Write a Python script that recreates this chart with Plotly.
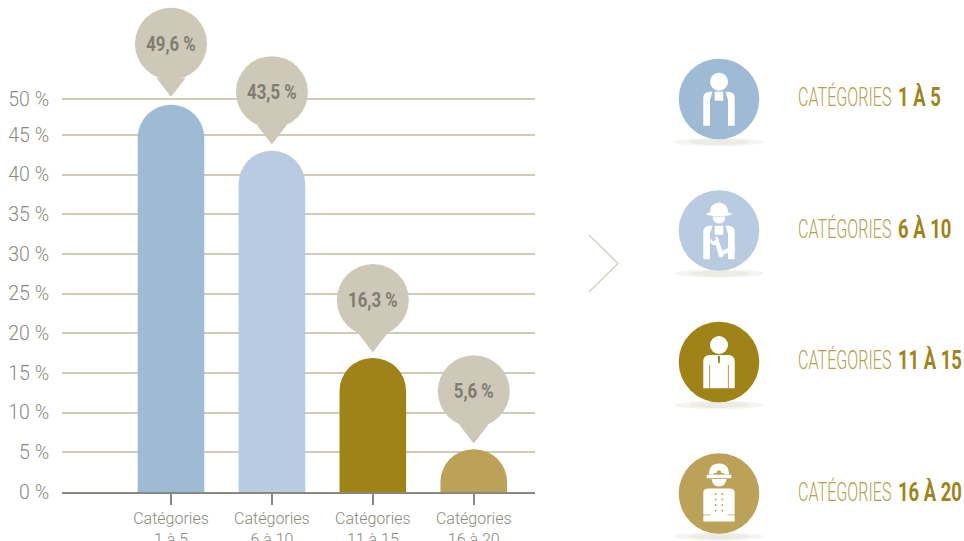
import plotly.graph_objects as go

W, H = 964, 541

# --- data ---
categories = ["Catégories<br>1 à 5", "Catégories<br>6 à 10", "Catégories<br>11 à 15", "Catégories<br>16 à 20"]
bar_heights = [48.8, 43.0, 16.9, 5.4]
value_labels = ["49,6 %", "43,5 %", "16,3 %", "5,6 %"]
bubble_levels = [56.5, 50.4, 24.2, 12.7]
tail_levels = [51.4, 45.4, 19.2, 7.7]
bar_colors = ["#9fbad5", "#b8cbe0", "#a08318", "#bba258"]
# the top gridline of the source sits a little low: its "50 %" is drawn at about 49.5 on the scale
y_ticks = [0, 5, 10, 15, 20, 25, 30, 35, 40, 45, 49.53]
y_tick_labels = ["0 %", "5 %", "10 %", "15 %", "20 %", "25 %", "30 %", "35 %", "40 %", "45 %", "50 %"]
legend_light = "CATÉGORIES"
legend_bold = ["1 À 5", "6 À 10", "11 À 15", "16 À 20"]

GREY = "#8b897e"
LINE = "#d0cbb9"
BUBBLE = "#cdc8b8"
GOLD = "#a08318"
PX_PER_UNIT = 7.934

fig = go.Figure()
fig.add_bar(x=categories, y=bar_heights, width=0.66,
            marker=dict(color=bar_colors, cornerradius=33, line_width=0), hoverinfo="skip")
fig.add_scatter(x=categories, y=tail_levels, mode="markers", hoverinfo="skip",
                marker=dict(symbol="triangle-down", size=24, color=BUBBLE, line=dict(color=BUBBLE, width=1)))
fig.add_scatter(x=categories, y=bubble_levels, mode="markers+text", hoverinfo="skip",
                marker=dict(symbol="circle", size=72, color=BUBBLE),
                text=value_labels, textposition="middle center",
                textfont=dict(family="Roboto", size=21, color="#7f7d70", weight="bold"))


def px(x):
    return x / W


def py(y):
    return 1 - y / H


shapes = []


def path(d, color):
    """d: list of tokens; tuples are absolute pixel coordinates."""
    out = []
    for t in d:
        out.append(t if isinstance(t, str) else f"{px(t[0])},{py(t[1])}")
    shapes.append(dict(type="path", xref="paper", yref="paper", path=" ".join(out) + " Z",
                       fillcolor=color, line_width=0, layer="above"))


def ell(cx, cy, rx, ry, color):
    shapes.append(dict(type="circle", xref="paper", yref="paper", x0=px(cx - rx), x1=px(cx + rx),
                       y0=py(cy + ry), y1=py(cy - ry), fillcolor=color, line_width=0, layer="above"))


def rect(x0, y0, x1, y1, color):
    shapes.append(dict(type="rect", xref="paper", yref="paper", x0=px(x0), x1=px(x1),
                       y0=py(y1), y1=py(y0), fillcolor=color, line_width=0, layer="above"))


def arms(cx, cy, top, bottom):
    for s in (-1, 1):
        path(["M", (cx + s * 15.7, cy + bottom), "L", (cx + s * 15.7, cy + top + 6),
              "Q", (cx + s * 15.7, cy + top + 1), (cx + s * 10, cy + top), "L", (cx + s * 6.5, cy + top),
              "L", (cx + s * 9, cy + top + 8), "L", (cx + s * 9, cy + bottom)], "#ffffff")
    rect(cx - 4.3, cy + top, cx + 4.3, cy + top + 9, "#ffffff")


def icon(i, cx, cy):
    bg = bar_colors[i]
    ell(cx, cy + 43, 45, 4, "#f5f4f0")
    ell(cx, cy + 43, 30, 3, "#ecebe4")
    ell(cx, cy, 40.3, 40.3, bg)
    W_ = "#ffffff"
    if i == 0:
        ell(cx, cy - 17.3, 9, 9, W_)
        arms(cx, cy, -7.3, 26.7)
    elif i == 1:
        path(["M", (cx - 9, cy - 18), "Q", (cx - 9, cy - 27), (cx, cy - 28),
              "Q", (cx + 9, cy - 27), (cx + 9, cy - 18)], W_)
        ell(cx, cy - 16.5, 12.8, 2.1, W_)
        path(["M", (cx - 6.5, cy - 14), "L", (cx + 6.5, cy - 14), "Q", (cx + 6, cy - 7), (cx, cy - 7),
              "Q", (cx - 6, cy - 7), (cx - 6.5, cy - 14)], W_)
        arms(cx, cy, -4.7, 28.7)
        pts = [(-8, 8), (-6, 11), (-3, 9), (-4, 6), (-1, 7), (0, 11), (5, 24), (3, 27), (0, 26), (-3, 15), (-7, 14), (-9, 11)]
        d = []
        for k, (a, b) in enumerate(pts):
            d += ["M" if k == 0 else "L", (cx + a, cy + b)]
        path(d, W_)
        path(["M", (cx + 15.7, cy + 14), "L", (cx + 15.7, cy + 20), "L", (cx + 4.5, cy + 24), "L", (cx + 3, cy + 20.5)], W_)
    elif i == 2:
        ell(cx, cy - 17, 9, 9, W_)
        path(["M", (cx - 15.7, cy + 26.3), "L", (cx - 15.7, cy - 1), "Q", (cx - 15.7, cy - 6), (cx - 10, cy - 7),
              "L", (cx + 10, cy - 7), "Q", (cx + 15.7, cy - 6), (cx + 15.7, cy - 1), "L", (cx + 15.7, cy + 26.3)], W_)
        for s in (-1, 1):
            rect(cx + s * 9.3 - 0.4, cy + 3, cx + s * 9.3 + 0.4, cy + 26.3, bg)
        path(["M", (cx - 1.2, cy - 6), "L", (cx + 1.2, cy - 6), "L", (cx + 0.8, cy + 1), "L", (cx - 0.8, cy + 1)], bg)
    else:
        path(["M", (cx - 10, cy - 19), "Q", (cx - 10, cy - 30), (cx, cy - 30),
              "Q", (cx + 10, cy - 30), (cx + 10, cy - 19)], W_)
        ell(cx, cy - 21, 2.2, 2.2, bg)
        rect(cx - 5, cy - 20.5, cx + 5, cy - 19, bg)
        rect(cx - 12.3, cy - 18.7, cx + 12.3, cy - 15.3, W_)
        path(["M", (cx - 7.5, cy - 14.5), "L", (cx + 7.5, cy - 14.5), "Q", (cx + 6.5, cy - 7), (cx, cy - 7),
              "Q", (cx - 6.5, cy - 7), (cx - 7.5, cy - 14.5)], W_)
        path(["M", (cx - 15.7, cy + 28), "L", (cx - 15.7, cy - 1), "Q", (cx - 15.7, cy - 5), (cx - 10, cy - 5),
              "L", (cx + 10, cy - 5), "Q", (cx + 15.7, cy - 5), (cx + 15.7, cy - 1), "L", (cx + 15.7, cy + 28)], W_)
        rect(cx - 16, cy + 21, cx - 8.5, cy + 21.8, bg)
        rect(cx + 8.5, cy + 21, cx + 16, cy + 21.8, bg)
        for r in (0.5, 6, 11.5, 17):
            for c in (-3.3, 3.3):
                ell(cx + c, cy + r, 0.9, 0.9, bg)


icon_centers = [(719, 99), (719, 230.5), (719, 362), (719, 493.5)]
for i, (cx, cy) in enumerate(icon_centers):
    icon(i, cx, cy)

# chevron
shapes.append(dict(type="path", xref="paper", yref="paper",
                   path=f"M {px(589)},{py(235)} L {px(618)},{py(263.5)} L {px(589)},{py(292)}",
                   line=dict(color=LINE, width=1.2), layer="above"))

annotations = []
for (cx, cy), b in zip(icon_centers, legend_bold):
    annotations.append(dict(
        xref="paper", yref="paper", x=px(796), y=py(cy - 2), xanchor="left", yanchor="middle", showarrow=False,
        text=legend_light,
        font=dict(family="Roboto", size=26, color="#b59f4e", weight=300)))
    annotations.append(dict(
        xref="paper", yref="paper", x=px(895.5), y=py(cy - 2), xanchor="left", yanchor="middle", showarrow=False,
        text=b,
        font=dict(family="Roboto", size=26, color=GOLD, weight="bold")))

fig.update_layout(
    width=W, height=H, margin=dict(l=0, r=0, t=0, b=0, autoexpand=False), autosize=False,
    paper_bgcolor="white", plot_bgcolor="white", showlegend=False, barmode="overlay",
    shapes=shapes, annotations=annotations,
    xaxis=dict(domain=[62 / W, 535 / W], type="category", categoryorder="array", categoryarray=categories,
               automargin=False,
               range=[-1.08, 3.607], ticks="outside", ticklen=11, tickwidth=1.5, tickcolor=GREY,
               showline=True, linecolor=GREY, linewidth=1.5, showgrid=False, zeroline=False,
               tickfont=dict(family="Roboto", size=16, color=GREY, weight=300), tickangle=0),
    yaxis=dict(domain=[1 - 492 / H, 1], range=[0, 492 / PX_PER_UNIT], tickvals=y_ticks, ticktext=y_tick_labels,
               automargin=False,
               showgrid=True, gridcolor=LINE, gridwidth=1.5, zeroline=False, showline=False,
               ticks="outside", ticklen=8, tickcolor="rgba(0,0,0,0)",
               tickfont=dict(family="Roboto", size=19.5, color=GREY, weight=300)),
)

post = """
document.documentElement.style.overflow='hidden';
document.body.style.margin='0';
function squeeze(t,k,anchor,dy){var b=t.getBBox();var x=anchor==='left'?b.x:b.x+b.width/2;
 t.setAttribute('transform',(t.getAttribute('transform')||'')+' translate('+x+','+dy+') scale('+k+',1) translate('+(-x)+',0)');}
document.querySelectorAll('.annotation-text').forEach(function(t){
  squeeze(t,t.textContent.indexOf('CAT')===0?0.62:0.71,'left',0);});
document.querySelectorAll('.textpoint text').forEach(function(t){squeeze(t,0.8,'mid',2);});
"""
fig.write_html("out.html", config=dict(displayModeBar=False), post_script=post)
